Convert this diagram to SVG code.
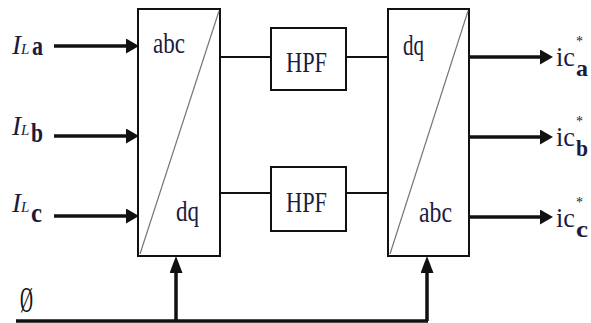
<svg xmlns="http://www.w3.org/2000/svg" width="591" height="323" viewBox="0 0 591 323">
<style>
.box{fill:#fff;stroke:#111;stroke-width:2}
.diag{stroke:#777;stroke-width:1.2;fill:none}
.t{font-family:"Liberation Serif","Times New Roman","DejaVu Serif",serif;fill:#1b1b3d}
.w{stroke:#111;stroke-width:2;fill:none}
.a{stroke:#111;stroke-width:3.5;fill:none}
</style>
<defs>
<marker id="ah" markerUnits="userSpaceOnUse" markerWidth="13" markerHeight="15" refX="0" refY="7.5" orient="auto">
<path d="M0,0 L13,7.5 L0,15 z" fill="#111"/>
</marker>
<marker id="av" markerUnits="userSpaceOnUse" markerWidth="17" markerHeight="13" refX="0" refY="6.5" orient="auto">
<path d="M0,0 L17,6.5 L0,13 z" fill="#111"/>
</marker>
</defs>
<rect width="591" height="323" fill="#fff"/>
<g id="connectors">
<line class="a" x1="54" y1="46" x2="126" y2="46" marker-end="url(#ah)"/>
<line class="a" x1="54" y1="136" x2="126" y2="136" marker-end="url(#ah)"/>
<line class="a" x1="54" y1="216" x2="126" y2="216" marker-end="url(#ah)"/>
<line class="w" x1="220" y1="57" x2="271" y2="57"/>
<line class="w" x1="346" y1="57" x2="388" y2="57"/>
<line class="w" x1="220" y1="193" x2="271" y2="193"/>
<line class="w" x1="346" y1="193" x2="388" y2="193"/>
<line class="a" x1="469" y1="57" x2="540" y2="57" marker-end="url(#ah)"/>
<line class="a" x1="469" y1="137" x2="540" y2="137" marker-end="url(#ah)"/>
<line class="a" x1="469" y1="217" x2="540" y2="217" marker-end="url(#ah)"/>
<line class="a" x1="16" y1="321" x2="428" y2="321" stroke-width="3"/>
<line class="a" x1="176" y1="321" x2="176" y2="273" stroke-width="3" marker-end="url(#av)"/>
<line class="a" x1="427" y1="321" x2="427" y2="273" stroke-width="3" marker-end="url(#av)"/>
</g>
<g id="abc-dq">
<rect class="box" x="138" y="9" width="82" height="247"/>
<line class="diag" x1="140" y1="254" x2="219" y2="11"/>
<text class="t" x="153" y="53" font-size="30" textLength="32" lengthAdjust="spacingAndGlyphs">abc</text>
<text class="t" x="176" y="221" font-size="30" textLength="23" lengthAdjust="spacingAndGlyphs">dq</text>
</g>
<g id="hpf1">
<rect class="box" x="271" y="28" width="75" height="62"/>
<text class="t" x="286" y="72" font-size="29" textLength="41" lengthAdjust="spacingAndGlyphs">HPF</text>
</g>
<g id="hpf2">
<rect class="box" x="271" y="167" width="75" height="64"/>
<text class="t" x="286" y="212" font-size="29" textLength="41" lengthAdjust="spacingAndGlyphs">HPF</text>
</g>
<g id="dq-abc">
<rect class="box" x="388" y="9" width="81" height="247"/>
<line class="diag" x1="390" y1="254" x2="468" y2="11"/>
<text class="t" x="403" y="55" font-size="30" textLength="21" lengthAdjust="spacingAndGlyphs">dq</text>
<text class="t" x="419" y="222" font-size="30" textLength="33" lengthAdjust="spacingAndGlyphs">abc</text>
</g>
<g id="inputs">
<text class="t" x="12" y="54" font-size="28" font-style="italic" textLength="9" lengthAdjust="spacingAndGlyphs">I</text>
<text class="t" x="21" y="54" font-size="15" font-style="italic">L</text>
<text class="t" x="32" y="55" font-size="28" font-weight="bold" textLength="11" lengthAdjust="spacingAndGlyphs">a</text>
<text class="t" x="12" y="135" font-size="28" font-style="italic" textLength="9" lengthAdjust="spacingAndGlyphs">I</text>
<text class="t" x="21" y="135" font-size="15" font-style="italic">L</text>
<text class="t" x="31" y="142" font-size="28" font-weight="bold" textLength="12" lengthAdjust="spacingAndGlyphs">b</text>
<text class="t" x="12" y="212" font-size="28" font-style="italic" textLength="9" lengthAdjust="spacingAndGlyphs">I</text>
<text class="t" x="21" y="212" font-size="15" font-style="italic">L</text>
<text class="t" x="31" y="222" font-size="28" font-weight="bold" textLength="11" lengthAdjust="spacingAndGlyphs">c</text>
</g>
<g id="outputs">
<text class="t" x="556" y="66" font-size="27" textLength="19" lengthAdjust="spacingAndGlyphs">ic</text>
<text class="t" x="576" y="76" font-size="23" font-weight="bold" textLength="12" lengthAdjust="spacingAndGlyphs">a</text>
<text class="t" x="576" y="46" font-size="14" fill="#6a3a7a">*</text>
<text class="t" x="556" y="146" font-size="27" textLength="19" lengthAdjust="spacingAndGlyphs">ic</text>
<text class="t" x="576" y="156" font-size="23" font-weight="bold" textLength="12" lengthAdjust="spacingAndGlyphs">b</text>
<text class="t" x="576" y="126" font-size="14" fill="#6a3a7a">*</text>
<text class="t" x="556" y="227" font-size="27" textLength="19" lengthAdjust="spacingAndGlyphs">ic</text>
<text class="t" x="576" y="237" font-size="23" font-weight="bold" textLength="12" lengthAdjust="spacingAndGlyphs">c</text>
<text class="t" x="576" y="207" font-size="14" fill="#6a3a7a">*</text>
</g>
<g id="theta">
<text font-family="Liberation Serif, serif" font-size="24" fill="#111" transform="translate(20,312) scale(0.75,1.45)">Ø</text>
</g>
</svg>
